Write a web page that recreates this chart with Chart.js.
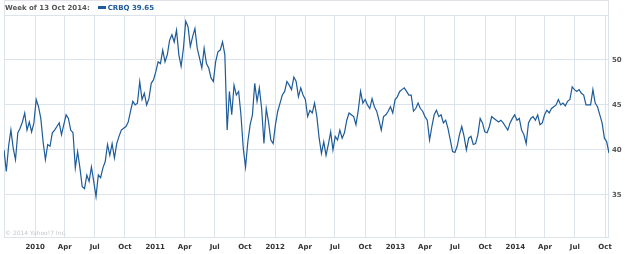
<!DOCTYPE html>
<html>
<head>
<meta charset="utf-8">
<script src="https://cdn.jsdelivr.net/npm/chart.js@4/dist/chart.umd.min.js"></script>
<style>
  body { margin: 0; background: #fff; }
  #wrap { position: relative; width: 625px; height: 254px; }
  #head {
    position: absolute; left: 4px; top: 0; width: 603px; height: 14px;
    border: 1px solid #dfe3e8; border-bottom: none;
    font: bold 7px "DejaVu Sans", Verdana, sans-serif; line-height: 14px; color: #555;
    white-space: nowrap;
  }
  #head .sw { display: inline-block; width: 8px; height: 3px; background: #1d5b99; margin: 0 2px 1px 8px; vertical-align: middle; }
  #head .tk { color: #1d5b99; }
  #copy {
    position: absolute; left: 5px; top: 229px;
    font: 6px "DejaVu Sans", Verdana, sans-serif; color: #c4c8cc;
  }
</style>
</head>
<body>
<div id="wrap">
  <canvas id="chart" width="625" height="254"></canvas>
  <div id="head">Week of 13 Oct 2014:<span class="sw"></span><span class="tk">CRBQ 39.65</span></div>
  <div id="copy">© 2014 Yahoo!7 Inc.</div>
</div>
<script>
// weekly closes, first week 28 Sep 2009, last week 13 Oct 2014
const firstWeek = Date.UTC(2009, 8, 28);
const prices = [
  40.0, 37.6, 40.4, 42.2, 40.2, 38.9, 41.9, 42.4, 43.1, 44.1,
  42.2, 43.1, 42.0, 43.0, 45.6, 44.8, 43.5, 40.9, 38.9, 40.6,
  40.4, 41.9, 42.2, 42.6, 43.0, 41.7, 42.8, 43.9, 43.5, 42.2,
  41.9, 38.0, 39.8, 38.0, 35.9, 35.7, 37.2, 36.5, 38.1, 36.5,
  34.8, 37.2, 36.9, 38.0, 38.7, 40.6, 39.4, 40.7, 39.1, 40.7,
  41.5, 42.2, 42.4, 42.6, 43.1, 44.3, 45.4, 45.0, 45.2, 47.6,
  45.6, 46.3, 45.0, 45.7, 47.4, 47.8, 48.7, 49.8, 49.6, 51.1,
  49.8, 50.6, 52.2, 52.8, 52.0, 53.3, 50.6, 49.3, 51.3, 54.3,
  53.7, 51.5, 52.6, 53.5, 51.3, 50.2, 49.1, 51.3, 49.6, 49.1,
  48.0, 47.6, 49.8, 50.9, 51.1, 52.0, 50.6, 42.2, 46.5, 43.9,
  47.2, 46.1, 46.5, 43.9, 40.2, 38.1, 40.9, 42.8, 43.9, 47.4,
  45.4, 46.9, 44.6, 40.7, 44.6, 43.1, 41.1, 40.7, 42.8, 44.3,
  45.2, 46.1, 46.5, 47.6, 47.2, 46.7, 48.1, 47.6, 45.9, 46.9,
  46.1, 45.6, 43.7, 44.4, 44.1, 45.2, 43.7, 41.3, 39.6, 40.9,
  39.4, 40.6, 42.0, 40.0, 41.5, 41.1, 42.2, 41.3, 41.9, 43.3,
  44.1, 43.9, 43.7, 42.8, 44.4, 46.5, 45.2, 45.6, 45.0, 44.6,
  45.7, 44.8, 44.3, 43.3, 42.2, 43.7, 43.9, 44.3, 44.8, 44.1,
  45.6, 45.9, 46.5, 46.7, 46.9, 46.5, 46.1, 46.1, 44.3, 44.6,
  45.2, 44.6, 44.3, 43.7, 43.3, 41.1, 42.6, 43.9, 44.4, 43.7,
  43.9, 43.0, 43.3, 42.4, 41.1, 39.8, 39.7, 40.4, 41.7, 42.6,
  41.5, 40.0, 41.3, 41.5, 40.6, 40.7, 41.7, 43.5, 43.0, 42.0,
  41.9, 42.6, 43.7, 43.5, 43.3, 43.1, 43.3, 43.0, 42.6, 42.2,
  43.0, 43.5, 43.9, 43.3, 43.5, 42.2, 41.7, 40.7, 43.0, 43.5,
  43.7, 43.3, 43.9, 42.8, 43.0, 43.9, 44.4, 44.1, 44.6, 44.8,
  45.0, 45.6, 45.0, 45.2, 44.9, 45.4, 45.6, 47.0, 46.7, 46.5,
  46.7, 46.3, 46.1, 45.0, 45.0, 45.0, 46.7, 45.2, 44.8, 43.9,
  43.0, 41.3, 40.9, 39.65
];
const tickLabels = ['2010', 'Apr', 'Jul', 'Oct', '2011', 'Apr', 'Jul', 'Oct',
  '2012', 'Apr', 'Jul', 'Oct', '2013', 'Apr', 'Jul', 'Oct',
  '2014', 'Apr', 'Jul', 'Oct'];
const yTicks = [35, 40, 45, 50];

const DAY = 86400000;
const points = prices.map((v, i) => ({ x: firstWeek + i * 7 * DAY, y: v }));
const tickDates = tickLabels.map((_, k) => Date.UTC(2010, 3 * k, 1));
const labelFor = {};
tickDates.forEach((d, k) => { labelFor[d] = tickLabels[k]; });

const gridColor = '#dce3ea';

const frame = {
  id: 'frame',
  beforeDatasetsDraw(chart) {
    const a = chart.chartArea, c = chart.ctx;
    c.save();
    c.strokeStyle = gridColor;
    c.lineWidth = 1;
    c.strokeRect(a.left + 0.5, a.top + 0.5, a.right - a.left - 1, a.bottom - a.top - 1);
    c.restore();
  }
};

new Chart(document.getElementById('chart'), {
  type: 'line',
  data: {
    datasets: [{
      data: points,
      borderColor: '#1d5b99',
      borderWidth: 1.2,
      pointRadius: 0,
      tension: 0,
      fill: false
    }]
  },
  options: {
    responsive: false,
    animation: false,
    layout: { padding: { left: 4, top: 15, right: 0, bottom: 0 } },
    plugins: { legend: { display: false }, tooltip: { enabled: false } },
    scales: {
      x: {
        type: 'linear',
        min: points[0].x,
        max: points[points.length - 1].x,
        afterBuildTicks: s => { s.ticks = tickDates.map(v => ({ value: v })); },
        afterFit: s => { s.height = 16; },
        grid: { color: gridColor, drawTicks: false },
        border: { display: false },
        ticks: {
          autoSkip: false, maxRotation: 0, padding: 5,
          color: '#333',
          font: { family: 'DejaVu Sans', size: 7, weight: 'bold' },
          callback: v => labelFor[v] || ''
        }
      },
      y: {
        position: 'right',
        min: 30.2,
        max: 55,
        afterBuildTicks: s => { s.ticks = yTicks.map(v => ({ value: v })); },
        afterFit: s => { s.width = 16; },
        grid: { color: gridColor, drawTicks: false },
        border: { display: false },
        ticks: {
          padding: 3,
          color: '#555',
          font: { family: 'DejaVu Sans', size: 7, weight: 'bold' }
        }
      }
    }
  },
  plugins: [frame]
});
</script>
</body>
</html>
